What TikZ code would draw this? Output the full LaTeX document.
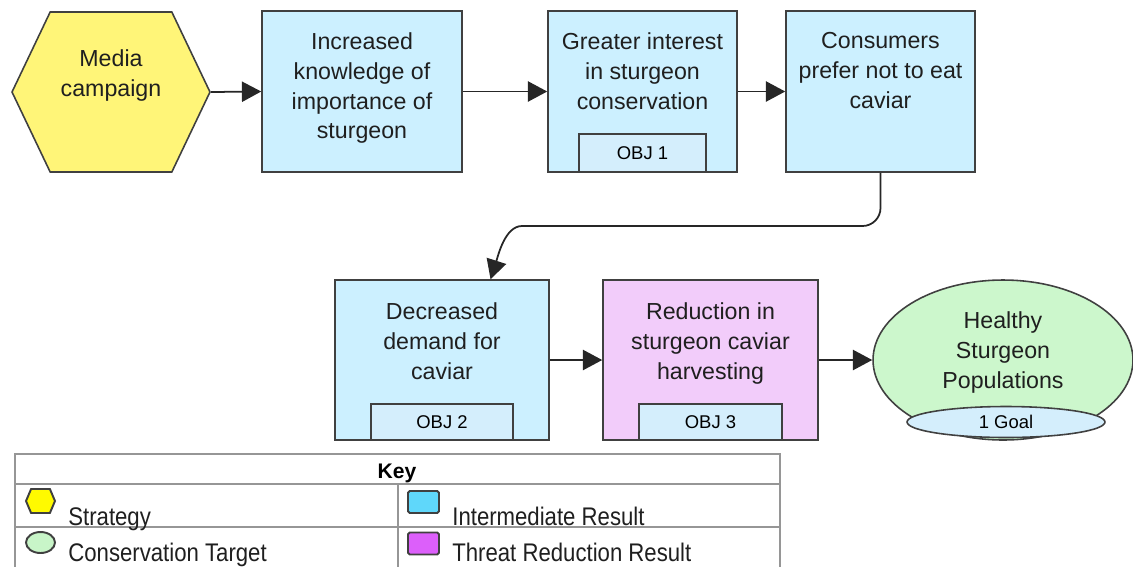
\documentclass[tikz,border=0pt]{standalone}
\usepackage{fontspec}
\setmainfont{Liberation Sans}
\newfontfamily\keyfont[FakeStretch=0.87]{Liberation Sans}
\usetikzlibrary{shapes,positioning,arrows.meta}
\definecolor{hexfill}{RGB}{255,245,120}
\definecolor{irfill}{RGB}{204,240,255}
\definecolor{objfill}{RGB}{212,238,252}
\definecolor{trfill}{RGB}{242,204,250}
\definecolor{ctfill}{RGB}{204,247,204}
\definecolor{edge}{RGB}{64,64,64}
\definecolor{rule}{RGB}{150,150,150}
\definecolor{keyyellow}{RGB}{255,250,0}
\definecolor{keyblue}{RGB}{95,215,250}
\definecolor{keygreen}{RGB}{200,245,200}
\definecolor{keypurple}{RGB}{220,95,250}

\begin{document}
\begin{tikzpicture}[x=0.02cm,y=-0.02cm]
	\tikzstyle{every node}+=[inner sep=0pt]
	\tikzstyle{hexa}=[signal, signal to=east and west, signal pointer angle=129, draw=edge, line width=0.9pt, fill=hexfill]
	\tikzstyle{ibox}=[rectangle, draw=edge, line width=0.9pt, fill=irfill, minimum height=3.22cm]
	\tikzstyle{tbox}=[ibox, fill=trfill]
	\tikzstyle{objbox}=[rectangle, draw=edge, line width=0.9pt, fill=objfill, font=\fontsize{10.5}{12}\selectfont]
	\tikzstyle{target}=[ellipse, draw=edge, line width=0.9pt, fill=ctfill]
	\tikzstyle{txt}=[align=center, text=black!88, font=\fontsize{13.2}{17}\selectfont]
	\tikzstyle{link}=[draw=black!85, line width=1pt, -{Triangle[length=11pt,width=11.5pt]}]
	\tikzstyle{rule}=[draw=rule, line width=0.6pt]
	\tikzstyle{keytxt}=[anchor=base west, text=black!88, font=\keyfont\fontsize{14.5}{17}\selectfont]
	\tikzstyle{keysq}=[rectangle, draw=edge, line width=1.1pt, rounded corners=1pt, minimum width=0.62cm, minimum height=0.44cm]
	\useasboundingbox (0,0) rectangle (1133,566);
	% top row
	\node[hexa, minimum width=3.96cm, minimum height=3.2cm] (media) at (111,92) {};
	\node[txt, below=0.76cm of media.north] (mediatxt) {Media\\campaign};
	\node[ibox, minimum width=4cm] (know) at (362,91.5) {};
	\node[txt, below=0.44cm of know.north] (knowtxt) {Increased\\knowledge of\\importance of\\sturgeon};
	\node[ibox, minimum width=3.78cm] (interest) at (642.5,91.5) {};
	\node[txt, below=0.44cm of interest.north] (interesttxt) {Greater interest\\in sturgeon\\conservation};
	\node[objbox, minimum width=2.54cm, minimum height=0.76cm, above=0pt of interest.south] (obj1) {OBJ 1};
	\node[ibox, minimum width=3.78cm] (consume) at (880.5,91.5) {};
	\node[txt, below=0.44cm of consume.north] (consumetxt) {Consumers\\prefer not to eat\\caviar};
	% bottom row
	\node[ibox, minimum width=4.28cm, minimum height=3.2cm] (demand) at (442,360) {};
	\node[txt, below=0.46cm of demand.north] (demandtxt) {Decreased\\demand for\\caviar};
	\node[objbox, minimum width=2.84cm, minimum height=0.72cm, above=0pt of demand.south] (obj2) {OBJ 2};
	\node[tbox, minimum width=4.3cm, minimum height=3.2cm] (harvest) at (710.5,360) {};
	\node[txt, below=0.46cm of harvest.north] (harvesttxt) {Reduction in\\sturgeon caviar\\harvesting};
	\node[objbox, minimum width=2.86cm, minimum height=0.72cm, above=0pt of harvest.south] (obj3) {OBJ 3};
	\node[target, minimum width=5.2cm, minimum height=3.2cm] (sturgeon) at (1003,360) {};
	\node[txt, below=0.64cm of sturgeon.north] (sturgeontxt) {Healthy\\Sturgeon\\Populations};
	\node[target, fill=objfill, minimum width=3.96cm, minimum height=0.62cm, font=\fontsize{10.5}{12}\selectfont] (goal) at (1006,422) {1 Goal};
	% links
	\draw[link] (media.east) -- (know.west);
	\draw[link] (know.east) -- (interest.west);
	\draw[link] (interest.east) -- (consume.west);
	\coordinate (turn) at (540,226);
	\draw[link, rounded corners=0.36cm] (consume.south) |- (turn) .. controls (505,226) and (498,256) .. (demand.59);
	\draw[link] (demand.east) -- (harvest.west);
	\draw[link] (harvest.east) -- (sturgeon.west);
	% key
	\draw[rule] (15,454) rectangle (780,600);
	\draw[rule] (15,484) -- (780,484);
	\draw[rule] (15,527) -- (780,527);
	\draw[rule] (398,484) -- (398,600);
	\node[anchor=base, font=\bfseries\fontsize{12}{14}\selectfont] (keyhead) at (397,478) {Key};
	\node[hexa, fill=keyyellow, line width=1.1pt, signal pointer angle=134, minimum width=0.58cm, minimum height=0.48cm] (keystrat) at (40.5,501) {};
	\node[keytxt] (keystrattxt) at (68,525) {Strategy};
	\node[keysq, fill=keyblue] (keyir) at (423.5,502) {};
	\node[keytxt] (keyirtxt) at (452,525) {Intermediate Result};
	\node[ellipse, draw=edge, line width=1.1pt, fill=keygreen, minimum width=0.58cm, minimum height=0.42cm] (keyct) at (40.5,542.5) {};
	\node[keytxt] (keycttxt) at (68,561) {Conservation Target};
	\node[keysq, fill=keypurple] (keytr) at (423.5,543.5) {};
	\node[keytxt] (keytrtxt) at (452,561) {Threat Reduction Result};
\end{tikzpicture}
\end{document}
